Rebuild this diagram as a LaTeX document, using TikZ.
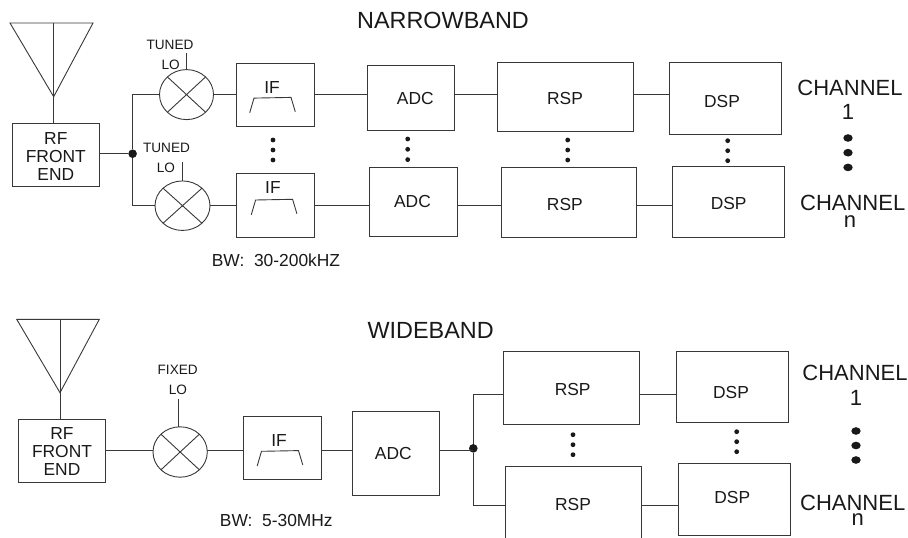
\documentclass[tikz,border=0pt]{standalone}
\usepackage{fontspec}
\setmainfont{Liberation Sans}
\usetikzlibrary{positioning,shapes.geometric}

\tikzset{
  blk/.style 2 args={draw,minimum width=#1pt,minimum height=#2pt},
  mixer/.style 2 args={draw,ellipse,minimum width=#1pt,minimum height=#2pt},
  junction/.style={circle,fill=black!90,minimum size=8.6pt},
  smalldot/.style={circle,fill=black!90,minimum size=4.8pt},
  bigdot/.style={ellipse,fill=black!90,minimum width=9.4pt,minimum height=7.6pt},
  lofont/.style={font=\fontsize{13.6}{14}\selectfont},
  chfont/.style={font=\fontsize{22}{22}\selectfont},
  titlefont/.style={font=\fontsize{23.4}{25}\selectfont},
  passband/.pic={\draw (-22.8,15) -- (-18.5,.3) -- (18.5,-.4) -- (22.8,14);}
}
% column of three dots: name, x, first y, step
\newcommand{\dotcol}[5][smalldot]{\foreach \k in {0,1,2} \node[#1] (#2\k) at (#3,#4+\k*#5) {};}

\begin{document}
\begin{tikzpicture}[x=1pt,y=-1pt,line width=.9pt,color=black!78,
  every node/.style={font=\fontsize{17.4}{18}\selectfont,inner sep=0pt,outer sep=0pt,text=black!90}]
\useasboundingbox (0,0) rectangle (908,538);
\clip (0,0) rectangle (908,538);

% narrowband
\node[titlefont] (nbtitle) at (443,20) {NARROWBAND};
\coordinate (ant1) at (53.7,23);
\draw (10,23) -- (93,23) -- (53.7,96.7) -- cycle;
\node[blk={87}{63},label={[align=center,yshift=-2pt]center:{RF\\FRONT\\END}}] (rf1) at (55.8,154.5) {};
\draw (ant1) -- (ant1 |- rf1.north);
\node[junction,right=29pt of rf1,yshift=.8pt] (dot1) {};

\node[mixer={54}{50}] (mix1) at (186.5,94.6) {};
\node[blk={78}{63},right=22.5pt of mix1,label={[xshift=-3pt,yshift=7.5pt]center:IF}] (if1) {};
\node[blk={87.4}{64.7},right=53.3pt of if1,yshift=-3.2pt,label={[xshift=4.3pt,yshift=-.3pt]center:ADC}] (adc1) {};
\node[blk={136}{68.6},right=42.6pt of adc1,yshift=.7pt,label={[xshift=-.3pt,yshift=-1pt]center:RSP}] (rsp1) {};
\node[blk={112}{71.3},right=35.7pt of rsp1,yshift=-1.3pt,label={[xshift=-3pt,yshift=-3.4pt]center:DSP}] (dsp1) {};
\pic at ([xshift=-2.5pt,yshift=-3.2pt]if1) {passband};

\node[mixer={55}{49.5}] (mix2) at (182.5,205.7) {};
\node[blk={78}{63.3},right=26.5pt of mix2,yshift=.3pt,label={[xshift=-2.6pt,yshift=17.4pt]center:IF}] (if2) {};
\node[blk={87.3}{68.3},right=55.3pt of if2,yshift=3.6pt,label={[xshift=-1pt]center:ADC}] (adc2) {};
\node[blk={135.7}{69.6},right=44pt of adc2,yshift=-.7pt,label={[xshift=-4.1pt,yshift=-2.2pt]center:RSP}] (rsp2) {};
\node[blk={112.3}{70.7},right=35.7pt of rsp2,yshift=.8pt,label={[yshift=-2pt]center:DSP}] (dsp2) {};
\pic at ([xshift=-1.4pt,yshift=5.7pt]if2) {passband};

\draw (rf1.east |- dot1) -- (dot1);
\draw (mix1.west) -| (dot1);
\draw (mix2.west) -| (dot1);
\draw (mix1) -- (if1.west |- mix1);
\draw (if1.east |- mix1) -- (adc1.west |- mix1);
\draw (adc1.east |- mix1) -- (rsp1.west |- mix1);
\draw (rsp1.east |- mix1) -- (dsp1.west |- mix1);
\draw (mix2) -- (if2.west |- mix2);
\draw (if2.east |- mix2) -- (adc2.west |- mix2);
\draw (adc2.east |- mix2) -- (rsp2.west |- mix2);
\draw (rsp2.east |- mix2) -- (dsp2.west |- mix2);

\coordinate (st1) at ([yshift=17pt]mix1.north);
\coordinate (st2) at ([yshift=18.7pt]mix2.north);
\draw (mix1.north) -- (st1);
\draw (mix2.north) -- (st2);
\node[lofont] (tuned1) at (170,45) {TUNED};
\node[lofont] (lo1) at (170.7,65) {LO};
\node[lofont] (tuned2) at (166.5,148) {TUNED};
\node[lofont] (lo2) at (166,168) {LO};
\node (bw1) at (276,260) {BW:\ \ 30-200kHZ};

\dotcol{ifd}{273}{140}{10}
\dotcol{adcd}{407.7}{139}{10.3}
\dotcol{rspd}{567.7}{140}{10}
\dotcol{dspd}{727.7}{140.7}{10}
\node[chfont] (ch1) at (850,88) {CHANNEL};
\node[chfont] (ch1n) at (848,111.7) {1};
\dotcol[bigdot]{chd}{848}{138}{14.7}
\node[chfont] (chn) at (852.7,203) {CHANNEL};
\node[chfont] (chnn) at (850,221.7) {n};

% wideband
\node[titlefont] (wbtitle) at (430.7,330) {WIDEBAND};
\coordinate (ant2) at (60,319.3);
\draw (16.7,319.3) -- (99.3,319.3) -- (60,392.7) -- cycle;
\node[blk={87.4}{63.3},label={[align=center,yshift=-1.3pt]center:{RF\\FRONT\\END}}] (rf2) at (62,450.7) {};
\draw (ant2) -- (ant2 |- rf2.north);

\node[mixer={54.3}{50.4},right=47.3pt of rf2,yshift=-1.3pt] (mix3) {};
\node[blk={78.4}{63},right=36pt of mix3,yshift=3.8pt,label={[xshift=-3.5pt,yshift=7.5pt]center:IF}] (if3) {};
\node[blk={86.6}{83.3},right=31pt of if3,yshift=-5.15pt,label={[xshift=-2.7pt]center:ADC}] (adc3) {};
\node[junction,right=29.7pt of adc3,yshift=5pt] (dot2) {};
\pic at ([xshift=-2.5pt,yshift=-2.8pt]if3) {passband};

\node[blk={136.4}{73.4},label={[xshift=1.2pt,yshift=-1.3pt]center:RSP}] (rsp3) at (571.5,388) {};
\node[blk={112}{71},right=37pt of rsp3,yshift=1.2pt,label={[xshift=-1.7pt,yshift=-5.9pt]center:DSP}] (dsp3) {};
\node[blk={136}{75},label={[yshift=-.5pt]center:RSP}] (rsp4) at (573,503.8) {};
\node[blk={112}{71.7},right=37pt of rsp4,yshift=4.65pt,label={[xshift=-1.7pt,yshift=1.15pt]center:DSP}] (dsp4) {};
\coordinate (sp3) at ([yshift=-6.3pt]rsp3.west);
\coordinate (sp4) at ([yshift=-1.5pt]rsp4.west);

\draw (rf2.east) -- (mix3.west |- rf2.east);
\draw (mix3.east |- rf2.east) -- (if3.west |- rf2.east);
\draw (if3.east |- rf2.east) -- (adc3.west |- rf2.east);
\draw (adc3.east |- rf2.east) -- (dot2 |- rf2.east);
\draw (sp3) -| (dot2);
\draw (sp4) -| (dot2);
\draw (rsp3.east |- sp3) -- (dsp3.west |- sp3);
\draw (rsp4.east |- sp4) -- (dsp4.west |- sp4);

\coordinate (st3) at ([xshift=-1.5pt,yshift=28pt]mix3.north);
\draw (st3) -- (st3 |- mix3.north);
\node[lofont] (fixed1) at (177.7,370) {FIXED};
\node[lofont] (lo3) at (178,390) {LO};
\node (bw2) at (276.3,521) {BW:\ \ 5-30MHz};

\dotcol{rspe}{573}{434.7}{10}
\dotcol{dspe}{736.7}{431.7}{10}
\node[chfont] (ch2) at (855,373.3) {CHANNEL};
\node[chfont] (ch21) at (856,397.7) {1};
\dotcol[bigdot]{che}{856}{431}{14.5}
\node[chfont] (ch2n) at (852.7,502.7) {CHANNEL};
\node[chfont] (ch2nn) at (857.7,519.3) {n};

\foreach \m in {mix1,mix2,mix3}
  \draw (\m.north west) -- (\m.south east) (\m.north east) -- (\m.south west);
\end{tikzpicture}
\end{document}
